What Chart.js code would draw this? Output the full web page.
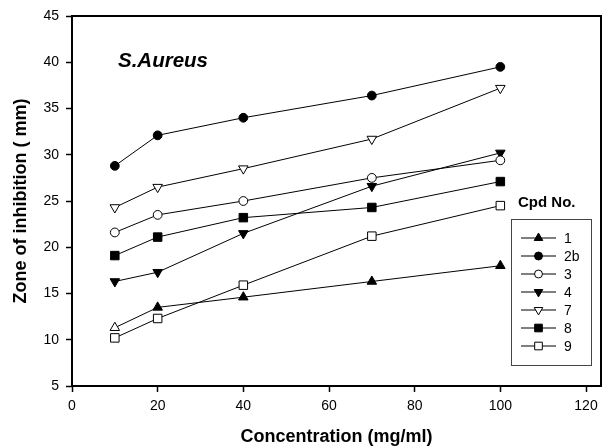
<!DOCTYPE html>
<html>
<head>
<meta charset="utf-8">
<script src="https://cdn.jsdelivr.net/npm/chart.js@4.4.1/dist/chart.umd.min.js"></script>
<style>
  body { margin: 0; background: #fff; }
  canvas { display: block; }
</style>
</head>
<body>
<canvas id="chart" width="608" height="448"></canvas>
<script>
// concentration (mg/ml)
const concentrations = [10, 20, 40, 70, 100];

// zone of inhibition (mm) per compound
const cpd1 = [11.3, 13.5, 14.6, 16.3, 18.0];
const cpd2b = [28.8, 32.1, 34.0, 36.4, 39.5];
const cpd3 = [21.6, 23.5, 25.0, 27.5, 29.4];
const cpd4 = [16.3, 17.3, 21.5, 26.6, 30.2];
const cpd7 = [24.3, 26.5, 28.5, 31.7, 37.2];
const cpd8 = [19.1, 21.1, 23.2, 24.3, 27.1];
const cpd9 = [10.2, 12.3, 15.9, 21.2, 24.5];

const seriesLabels = ['1', '2b', '3', '4', '7', '8', '9'];
const xTicks = [0, 20, 40, 60, 80, 100, 120];

const FONT = '"Liberation Sans", Arial, sans-serif';

const toPoints = vals => vals.map((v, i) => ({ x: concentrations[i], y: v }));

// marker styles: [pointStyle, filled, rotation, radius]
const markers = [
  ['triangle', true, 0, 5.5],
  ['circle', true, 0, 4.4],
  ['circle', false, 0, 4.4],
  ['triangle', true, 180, 5.5],
  ['triangle', false, 180, 5.5],
  ['rect', true, 0, 6],
  ['rect', false, 0, 6],
];

const allSeries = [cpd1, cpd2b, cpd3, cpd4, cpd7, cpd8, cpd9];

const datasets = allSeries.map((vals, i) => {
  const [style, filled, rot, r] = markers[i];
  return {
    label: seriesLabels[i],
    data: toPoints(vals),
    borderColor: '#000',
    borderWidth: 1,
    pointStyle: style,
    pointRotation: rot,
    pointRadius: r,
    pointBorderWidth: 1,
    pointBorderColor: '#000',
    pointBackgroundColor: filled ? '#000' : '#fff',
    fill: false,
    tension: 0,
  };
});

// in the original the first marker of cpd 1 is drawn hollow
datasets[0].pointBackgroundColor = ['#fff', '#000', '#000', '#000', '#000'];

const framePlugin = {
  id: 'frame',
  afterDraw(chart) {
    const { ctx, chartArea: a } = chart;
    ctx.save();
    ctx.strokeStyle = '#000';
    ctx.lineWidth = 2;
    ctx.strokeRect(a.left, a.top, a.right - a.left, a.bottom - a.top);

    // panel title
    ctx.fillStyle = '#000';
    ctx.font = 'italic bold 20.5px ' + FONT;
    ctx.textBaseline = 'middle';
    ctx.textAlign = 'left';
    ctx.fillText('S.Aureus', 118, 61);

    // legend
    ctx.font = 'bold 15px ' + FONT;
    ctx.fillText('Cpd No.', 518, 203);
    ctx.lineWidth = 1;
    ctx.strokeStyle = '#444';
    ctx.strokeRect(511.5, 219.5, 80, 146);
    ctx.font = '14px ' + FONT;
    chart.data.datasets.forEach((ds, i) => {
      const y = 238 + i * 18;
      ctx.strokeStyle = '#000';
      ctx.lineWidth = 1;
      ctx.beginPath();
      ctx.moveTo(521, y);
      ctx.lineTo(556, y);
      ctx.stroke();
      ctx.fillStyle = markers[i][1] ? '#000' : '#fff';
      Chart.helpers.drawPoint(ctx, {
        pointStyle: ds.pointStyle,
        rotation: ds.pointRotation,
        radius: ds.pointRadius * 0.9,
        borderWidth: 1,
      }, 538.5, y);
      ctx.fillStyle = '#000';
      ctx.fillText(ds.label, 564, y + 1);
    });
    ctx.restore();
  },
};

new Chart(document.getElementById('chart'), {
  type: 'line',
  data: { datasets },
  options: {
    responsive: false,
    animation: false,
    layout: { padding: { top: 16, right: 2, left: 0, bottom: 0 } },
    plugins: {
      legend: { display: false },
      tooltip: { enabled: false },
    },
    scales: {
      x: {
        type: 'linear',
        min: 0,
        max: 123.5,
        afterBuildTicks: s => { s.ticks = xTicks.map(v => ({ value: v })); },
        afterFit: s => { s.height = 62; s.paddingRight = 0; s.paddingLeft = 0; },
        border: { display: false },
        grid: { drawOnChartArea: false, drawTicks: true, tickLength: 6, tickColor: '#000', tickWidth: 1.5 },
        ticks: { color: '#000', font: { family: FONT, size: 14 }, padding: 6, maxRotation: 0 },
        title: {
          display: true,
          text: 'Concentration (mg/ml)',
          color: '#000',
          font: { family: FONT, size: 18, weight: 'bold' },
          padding: { top: 0, bottom: 0 },
        },
      },
      y: {
        min: 5,
        max: 45,
        ticks: { stepSize: 5, color: '#000', font: { family: FONT, size: 14 }, padding: 7 },
        afterFit: s => { s.width = 72; },
        border: { display: false },
        grid: { drawOnChartArea: false, drawTicks: true, tickLength: 6, tickColor: '#000', tickWidth: 1.5 },
        title: {
          display: true,
          text: 'Zone of inhibition ( mm)',
          color: '#000',
          font: { family: FONT, size: 18, weight: 'bold' },
          padding: { top: 10, bottom: 0 },
        },
      },
    },
  },
  plugins: [framePlugin],
});
</script>
</body>
</html>
